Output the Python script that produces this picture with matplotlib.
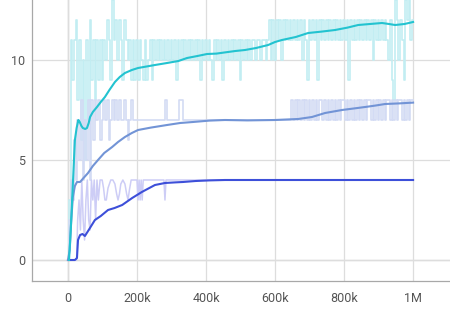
import matplotlib
matplotlib.use("Agg")
import matplotlib.pyplot as plt
import numpy as np

plt.rcParams['font.family'] = ['Roboto', 'DejaVu Sans']

#======= Donnees =======

step_k = 5   # pas d'enregistrement des series brutes (k steps)

    #=== serie cyan ===
cyan_raw = [0, 3, 11, 9, 11, 12, 8, 11, 6, 10,
            5, 11, 7, 12, 9, 11, 8, 11, 9, 11,
            9, 11, 10, 12, 11, 9, 13, 11, 12, 10,
            12, 11, 9, 12, 11, 10, 11, 9, 11, 9,
            11, 9, 11, 10, 9, 11, 9, 10, 11, 9,
            11, 10, 11, 10, 11, 10, 11, 10, 11, 10,
            11, 10, 11, 9, 11, 10, 11, 10, 11, 10,
            11, 10, 11, 10, 11, 10, 11, 9, 11, 10,
            11, 10, 11, 10, 9, 11, 10, 11, 10, 11,
            9, 11, 10, 11, 10, 11, 10, 11, 10, 11,
            9, 11, 10, 11, 10, 11, 10, 11, 11, 10,
            11, 11, 10, 11, 11, 10, 11, 12, 10, 12,
            10, 12, 11, 12, 10, 12, 11, 12, 11, 12,
            11, 12, 11, 12, 11, 12, 10, 12, 11, 9,
            12, 11, 12, 11, 12, 9, 12, 11, 12, 11,
            12, 11, 12, 11, 12, 11, 12, 11, 12, 11,
            12, 11, 12, 9, 12, 11, 12, 11, 12, 11,
            12, 11, 12, 11, 12, 11, 12, 10, 12, 11,
            12, 11, 12, 11, 12, 11, 10, 12, 9, 8,
            13, 12, 10, 12, 11, 9, 13, 12, 13, 11,
            12]
cyan_smooth_x = [3, 8, 12, 16, 20, 25, 30, 34, 39, 43, 50, 55, 60, 64, 72, 84, 95, 107,
                 120, 136, 150, 165, 185, 203, 252, 287, 320, 345, 375, 403, 430, 455,
                 485, 513, 545, 580, 600, 620, 660, 696, 735, 774, 810, 841, 875, 910,
                 930, 948, 975, 1000]
cyan_smooth_y = [0, 1.5, 3.0, 4.5, 6.0, 6.6, 7.0, 6.9, 6.7, 6.6, 6.55, 6.6, 6.85, 7.15,
                 7.4, 7.65, 7.9, 8.15, 8.5, 8.9, 9.15, 9.35, 9.5, 9.6, 9.75, 9.85, 9.95,
                 10.1, 10.2, 10.3, 10.32, 10.38, 10.45, 10.5, 10.6, 10.75, 10.9, 11.0,
                 11.15, 11.35, 11.42, 11.5, 11.62, 11.75, 11.8, 11.85, 11.8, 11.75, 11.8,
                 11.9]

    #=== serie bleu moyen ===
moyen_raw = [0, 2, 4, 3, 6, 4, 7, 5, 8, 4,
             7, 5, 8, 4, 8, 6, 8, 7, 8, 6,
             7, 8, 7, 8, 6, 7, 8, 7, 8, 7,
             8, 7, 7, 8, 7, 6, 7, 8, 7, 7] + [7] * 17 + [8, 7, 7, 7, 7, 7, 7, 7, 8, 8] + \
            [7] * 63 + \
            [8, 7, 8, 7, 8, 7, 8, 7, 8, 7,
             8, 7, 8, 7, 8, 7, 8, 8, 7, 8,
             7, 8, 7, 8, 7, 8, 7, 8, 7, 8,
             8, 7, 8, 7, 8, 7, 8, 7, 8, 7,
             8, 7, 8, 7, 8, 8, 7, 8, 7, 8,
             7, 8, 7, 8, 7, 8, 8, 7, 8, 7,
             8, 7, 8, 8, 7, 8, 7, 8, 7, 8,
             8]
moyen_smooth_x = [0, 5, 9, 14, 20, 26, 35, 45, 58, 72, 87, 105, 128, 145, 165, 185, 203,
                  240, 287, 325, 362, 410, 455, 520, 600, 667, 707, 745, 794, 830, 861,
                  890, 919, 960, 1000]
moyen_smooth_y = [0, 0.5, 1.85, 3.15, 3.7, 3.9, 3.9, 4.1, 4.35, 4.7, 5.0, 5.35, 5.65,
                  5.9, 6.15, 6.35, 6.5, 6.62, 6.75, 6.85, 6.9, 6.97, 7.0, 6.98, 7.0,
                  7.05, 7.15, 7.35, 7.5, 7.58, 7.65, 7.72, 7.8, 7.83, 7.87]

    #=== serie bleu fonce ===
fonce_raw_x = [0, 25, 28, 32, 36, 40, 44, 48, 52, 56, 60, 64, 68, 72, 76, 80, 84, 88,
               93, 99, 103, 107, 111, 116, 124, 130, 136, 141, 145, 149, 153, 159, 165,
               170, 174, 178, 183, 200, 203, 206, 209, 212, 215, 218, 278, 281, 284, 1000]
fonce_raw_y = [0, 0, 2, 3, 1.5, 4, 2, 1, 3, 4, 2, 1.5, 4, 3, 4, 2, 4, 3,
               4, 4, 3.6, 3.0, 3.0, 3.6, 4.0, 4.0, 3.8, 3.3, 3.0, 3.3, 3.8, 4.0, 3.8,
               3.3, 3.0, 3.5, 4.0, 4, 3, 4, 3, 4, 3, 4, 4, 3, 4, 4]
fonce_smooth_x = [0, 10, 20, 26, 29, 35, 42, 49, 60, 78, 95, 116, 135, 157, 186, 214,
                  252, 281, 310, 333, 370, 410, 455, 600, 800, 1000]
fonce_smooth_y = [0, 0, 0, 0.1, 1.0, 1.25, 1.3, 1.2, 1.5, 2.0, 2.2, 2.5, 2.6, 2.75, 3.1,
                  3.4, 3.75, 3.85, 3.88, 3.9, 3.95, 3.98, 4.0, 4.0, 4.0, 4.0]

xticks_k = [0, 200, 400, 600, 800, 1000]
xtick_labels = ['0', '200k', '400k', '600k', '800k', '1M']
yticks = [0, 5, 10]

#======= Figure =======

fig = plt.figure(figsize=(4.5, 3.15), dpi=100)
ax = fig.add_axes([32/450, 34/315, 418/450, 281/315])

def pas(valeurs):
    return np.arange(len(valeurs)) * step_k * 1000

ax.plot(pas(cyan_raw), cyan_raw, color='#c2edf2', lw=1.2, drawstyle='steps-mid', zorder=2)
ax.plot(pas(moyen_raw), moyen_raw, color='#d3dbf4', lw=1.2, drawstyle='steps-mid', zorder=2)
ax.plot(np.array(fonce_raw_x) * 1000, fonce_raw_y, color='#cdcdf6', lw=1.1, zorder=2)

ax.plot(np.array(fonce_smooth_x) * 1000, fonce_smooth_y, color='#3d4fd9', lw=1.5, zorder=3)
ax.plot(np.array(moyen_smooth_x) * 1000, moyen_smooth_y, color='#7294d6', lw=1.5, zorder=3)
ax.plot(np.array(cyan_smooth_x) * 1000, cyan_smooth_y, color='#23c3d0', lw=1.5, zorder=3)

ax.set_xlim(-104300, 1107000)
ax.set_ylim(-1.05, 13.0)
ax.set_xticks(np.array(xticks_k) * 1000)
ax.set_xticklabels(xtick_labels)
ax.set_yticks(yticks)

ax.grid(True, color='#dddddd', lw=0.9, zorder=0)
ax.axvline(0, color='#b0b0b0', lw=0.9, zorder=1)
ax.axhline(0, color='#c4c4c4', lw=0.9, zorder=1)

for cote in ['top', 'right']:
    ax.spines[cote].set_visible(False)
for cote in ['left', 'bottom']:
    ax.spines[cote].set_color('#a8a8a8')
    ax.spines[cote].set_linewidth(0.9)

ax.tick_params(axis='both', length=0, labelsize=9, labelcolor='#555555')
ax.tick_params(axis='x', pad=8)
ax.tick_params(axis='y', pad=5)

fig.savefig('out.png', dpi=100)
